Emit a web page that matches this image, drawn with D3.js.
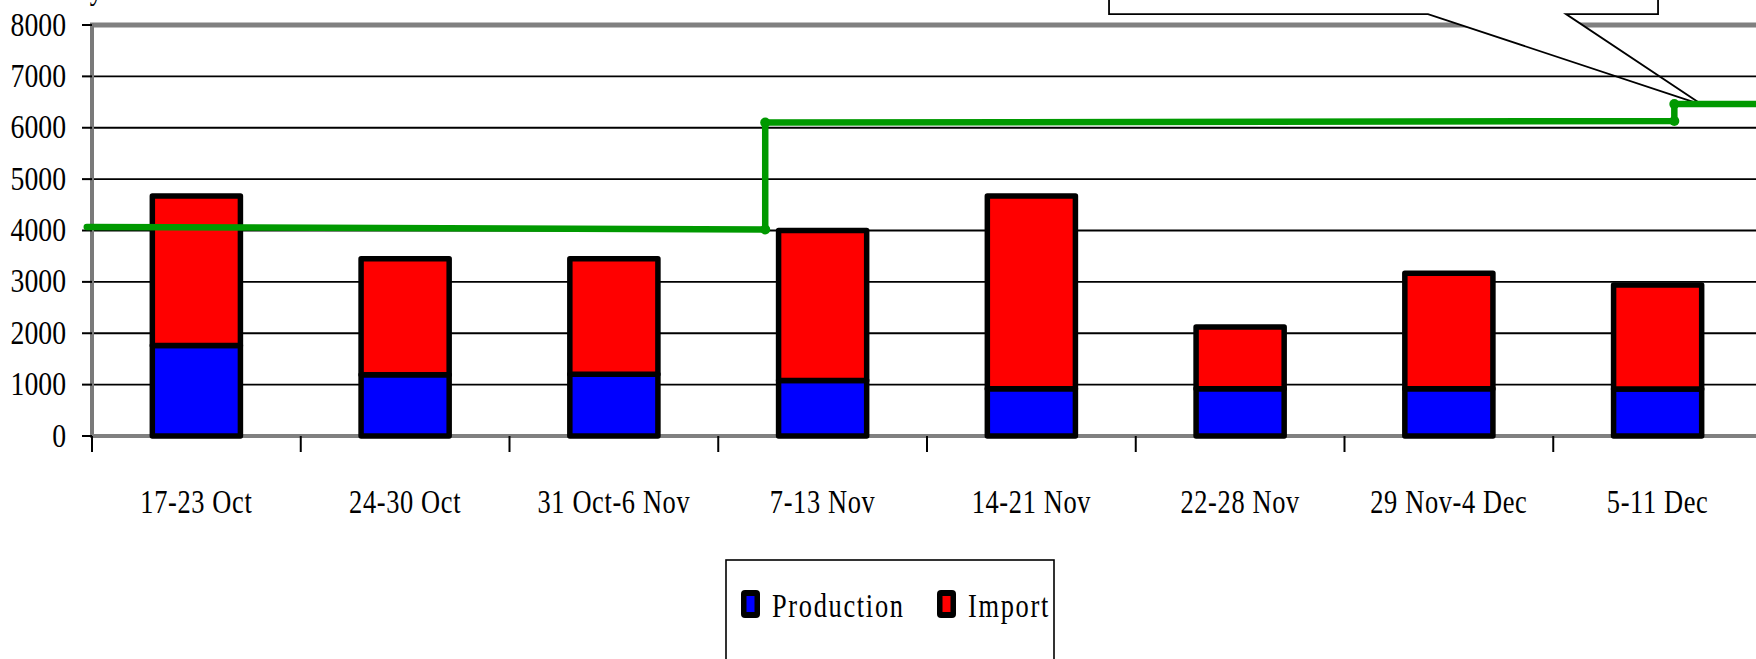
<!DOCTYPE html>
<html>
<head>
<meta charset="utf-8">
<title>Production and Import per week</title>
<script src="https://cdn.jsdelivr.net/npm/d3@7"></script>
<style>
body{ margin:0; background:#fff; overflow:hidden; }
svg text{ font-family: "Liberation Serif", "Times New Roman", serif; font-size:33px; fill:#000; }
</style>
</head>
<body>
<script>
// weekly figures
var weeks = ["17-23 Oct", "24-30 Oct", "31 Oct-6 Nov", "7-13 Nov", "14-21 Nov", "22-28 Nov", "29 Nov-4 Dec", "5-11 Dec"];
var production = [1760, 1190, 1200, 1080, 920, 920, 920, 915];
var imports = [2910, 2260, 2250, 2920, 3750, 1200, 2250, 2025];
var yTicks = [0, 1000, 2000, 3000, 4000, 5000, 6000, 7000, 8000];

// green step line (position in weeks, value)
var capacityAt = [-0.025, 3.225, 3.225, 7.58, 7.58, 8.1];
var capacity = [4070, 4020, 6100, 6130, 6460, 6460];

// callout outline (position in weeks, value)
var calloutAt = [4.872, 4.872, 6.4, 7.717, 7.061, 7.502, 7.502];
var calloutVal = [9500, 8213, 8213, 6440, 8213, 8213, 9500];

const width = 1756, height = 659;
const plotLeft = 92, plotZero = 436, plotTop = 25;

const svg = d3.select("body").append("svg").attr("width", width).attr("height", height);

const xw = d3.scaleLinear().domain([0, weeks.length]).range([plotLeft, plotLeft + 208.75 * weeks.length]);
const xb = d3.scaleBand().domain(weeks).range(xw.range()).paddingInner(0.578).paddingOuter(0.289);
const y = d3.scaleLinear().domain([0, 8000]).range([plotZero, plotTop]);

// top border (8000) in grey
svg.append("line").attr("x1", plotLeft - 2).attr("x2", width).attr("y1", y(8000)).attr("y2", y(8000))
   .attr("stroke", "#808080").attr("stroke-width", 5);

// callout
const calloutLine = d3.line().x(d => xw(d[0])).y(d => y(d[1]));
svg.append("path").datum(d3.zip(calloutAt, calloutVal)).attr("d", calloutLine)
   .attr("fill", "#fff").attr("stroke", "#000").attr("stroke-width", 1.8).attr("stroke-linejoin", "miter");

// gridlines
svg.append("g").selectAll("line").data(yTicks.filter(v => v > 0 && v < 8000)).enter().append("line")
   .attr("x1", plotLeft).attr("x2", width).attr("y1", d => y(d)).attr("y2", d => y(d))
   .attr("stroke", "#000").attr("stroke-width", 1.8);

svg.append("line").attr("x1", plotLeft).attr("x2", plotLeft).attr("y1", y(8000) - 2).attr("y2", plotZero + 2)
   .attr("stroke", "#7a7a7a").attr("stroke-width", 4);
svg.append("line").attr("x1", plotLeft - 2).attr("x2", width).attr("y1", plotZero).attr("y2", plotZero)
   .attr("stroke", "#808080").attr("stroke-width", 4);

// y ticks and labels
const yAxisG = svg.append("g");
yAxisG.selectAll("line").data(yTicks).enter().append("line")
   .attr("x1", plotLeft - 10).attr("x2", plotLeft).attr("y1", d => y(d)).attr("y2", d => y(d))
   .attr("stroke", "#000").attr("stroke-width", 2);
yAxisG.selectAll("text").data(yTicks).enter().append("text")
   .attr("text-anchor", "end")
   .attr("transform", d => `translate(66, ${y(d) + 10.5}) scale(0.84,1)`)
   .text(d => d);

// cut-off axis title at the very top (only the descender shows)
svg.append("text").attr("text-anchor", "end")
   .attr("transform", "translate(103, -0.8) scale(0.8,1)").text("Tonnes/day");

// x ticks at week boundaries and labels
const xAxisG = svg.append("g");
xAxisG.selectAll("line").data(d3.range(weeks.length + 1)).enter().append("line")
   .attr("x1", d => xw(d)).attr("x2", d => xw(d)).attr("y1", plotZero).attr("y2", plotZero + 16)
   .attr("stroke", "#000").attr("stroke-width", 2);
xAxisG.selectAll("text").data(weeks).enter().append("text")
   .attr("text-anchor", "middle")
   .attr("letter-spacing", "0.8px")
   .attr("transform", d => `translate(${xb(d) + xb.bandwidth() / 2}, 513) scale(0.8,1)`)
   .text(d => d);

// stacked bars
const bars = svg.append("g").selectAll("g").data(weeks).enter().append("g");
bars.append("rect")
   .attr("x", d => xb(d)).attr("width", xb.bandwidth())
   .attr("y", (d, i) => y(production[i])).attr("height", (d, i) => y(0) - y(production[i]))
   .attr("fill", "#0000ff").attr("stroke", "#000").attr("stroke-width", 5.5).attr("stroke-linejoin", "round");
bars.append("rect")
   .attr("x", d => xb(d)).attr("width", xb.bandwidth())
   .attr("y", (d, i) => y(production[i] + imports[i])).attr("height", (d, i) => y(production[i]) - y(production[i] + imports[i]))
   .attr("fill", "#ff0000").attr("stroke", "#000").attr("stroke-width", 5.5).attr("stroke-linejoin", "round");

// green step line
const stepData = d3.zip(capacityAt, capacity);
const stepLine = d3.line().x(d => xw(d[0])).y(d => y(d[1]));
svg.append("path").datum(stepData).attr("d", stepLine)
   .attr("fill", "none").attr("stroke", "#009900").attr("stroke-width", 6.5)
   .attr("stroke-linecap", "round").attr("stroke-linejoin", "round");
svg.append("g").selectAll("circle").data(stepData.slice(1, 5)).enter().append("circle")
   .attr("cx", d => xw(d[0])).attr("cy", d => y(d[1])).attr("r", 5).attr("fill", "#009900");

// legend
const legend = svg.append("g");
legend.append("rect").attr("x", 726).attr("y", 560).attr("width", 328).attr("height", 200)
   .attr("fill", "#fff").attr("stroke", "#000").attr("stroke-width", 1.6);
const items = [{name: "Production", color: "#0000ff", x: 741}, {name: "Import", color: "#ff0000", x: 937}];
const li = legend.selectAll("g.item").data(items).enter().append("g").attr("class", "item");
li.append("rect").attr("x", d => d.x).attr("y", 590).attr("width", 19).attr("height", 28).attr("rx", 4)
   .attr("fill", "#000");
li.append("rect").attr("x", d => d.x + 5.5).attr("y", 596).attr("width", 8).attr("height", 16)
   .attr("fill", d => d.color);
li.append("text").attr("transform", d => `translate(${d.x + 31}, 617) scale(0.8,1)`)
   .attr("letter-spacing", "2.1px").text(d => d.name);
</script>
</body>
</html>
